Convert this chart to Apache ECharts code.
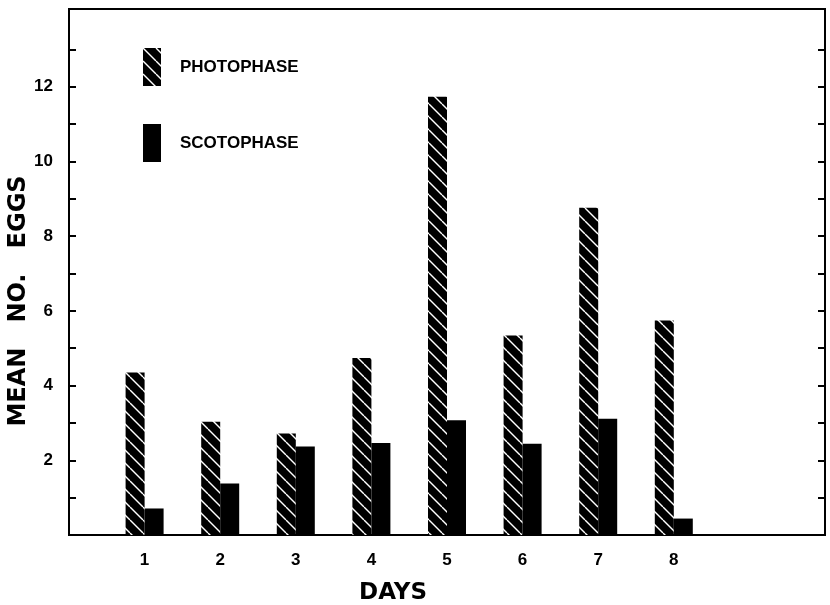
<!DOCTYPE html>
<html>
<head>
<meta charset="utf-8">
<script src="https://cdn.jsdelivr.net/npm/echarts@6/dist/echarts.min.js"></script>
<style>
  html, body { margin: 0; padding: 0; background: #fff; }
  #chart { width: 830px; height: 605px; }
</style>
</head>
<body>
<div id="chart"></div>
<script>
const days = ['1', '2', '3', '4', '5', '6', '7', '8'];
const photophase = [4.35, 3.03, 2.72, 4.74, 11.73, 5.34, 8.76, 5.74];
const scotophase = [0.71, 1.38, 2.37, 2.46, 3.07, 2.44, 3.11, 0.44];
const yTickLabels = ['2', '4', '6', '8', '10', '12'];
const yTicks = [1, 2, 3, 4, 5, 6, 7, 8, 9, 10, 11, 12, 13];
const seriesNames = ['PHOTOPHASE', 'SCOTOPHASE'];

// axis positions 0..10, days sit on 1..8
const axisCats = ['0'].concat(days, ['9', '10']);
const pad = arr => [null].concat(arr, [null, null]);

function hatch() {
  const s = 13;
  const c = document.createElement('canvas');
  c.width = s; c.height = s;
  const g = c.getContext('2d');
  g.fillStyle = '#000';
  g.fillRect(0, 0, s, s);
  g.strokeStyle = '#fff';
  g.lineWidth = 1.4;
  for (let k = -s; k <= s; k += s) {
    g.beginPath();
    g.moveTo(k, 0);
    g.lineTo(k + s, s);
    g.stroke();
  }
  return c;
}

const chart = echarts.init(document.getElementById('chart'), null, { renderer: 'canvas' });
const font = 'Liberation Sans';
chart.setOption({
  animation: false,
  backgroundColor: '#fff',
  grid: { left: 69, right: 5, top: 9, bottom: 70, show: true, borderColor: '#000', borderWidth: 2, backgroundColor: 'transparent' },
  legend: {
    orient: 'vertical', left: 143, top: 48, padding: 0,
    itemWidth: 18, itemHeight: 38, itemGap: 38,
    icon: 'rect',
    data: seriesNames,
    textStyle: { fontFamily: font, fontWeight: 'bold', fontSize: 17, color: '#000', padding: [0, 0, 0, 14] }
  },
  xAxis: {
    type: 'category', data: axisCats, boundaryGap: false,
    axisLine: { show: true, lineStyle: { color: '#000', width: 2 } },
    axisTick: { show: false },
    splitLine: { show: false },
    axisLabel: {
      margin: 17, color: '#000', fontFamily: font, fontWeight: 'bold', fontSize: 17,
      interval: 0,
      formatter: v => days.includes(v) ? v : ''
    }
  },
  yAxis: [{
    type: 'value', min: 0, max: 14.08, interval: 1,
    axisLine: { show: true, lineStyle: { color: '#000', width: 2 } },
    axisTick: { show: true, inside: true, length: 7, lineStyle: { color: '#000', width: 2 }, customValues: yTicks },
    splitLine: { show: false },
    axisLabel: {
      margin: 16, color: '#000', fontFamily: font, fontWeight: 'bold', fontSize: 17,
      showMaxLabel: false,
      formatter: v => yTickLabels.includes(String(v)) ? String(v) : ''
    }
  }, {
    type: 'value', min: 0, max: 14.08, interval: 1, position: 'right',
    axisLine: { show: true, lineStyle: { color: '#000', width: 2 } },
    axisTick: { show: true, inside: true, length: 7, lineStyle: { color: '#000', width: 2 }, customValues: yTicks },
    splitLine: { show: false },
    axisLabel: { show: false }
  }],
  series: [{
    name: seriesNames[0], type: 'bar', yAxisIndex: 0,
    data: pad(photophase), barWidth: 19, barGap: '0%',
    itemStyle: { color: { image: hatch(), repeat: 'repeat' } }
  }, {
    name: seriesNames[1], type: 'bar', yAxisIndex: 0,
    data: pad(scotophase), barWidth: 19, barGap: '0%',
    itemStyle: { color: '#000' }
  }],
  graphic: [{
    type: 'text', x: 19, y: 301, rotation: Math.PI / 2,
    style: { text: 'MEAN   NO.   EGGS', fontFamily: 'DejaVu Sans', fontWeight: 'bold', fontSize: 24, fill: '#000', align: 'center', verticalAlign: 'middle' }
  }, {
    type: 'text', x: 393, y: 593,
    style: { text: 'DAYS', fontFamily: 'DejaVu Sans', fontWeight: 'bold', fontSize: 23, fill: '#000', align: 'center', verticalAlign: 'middle' }
  }]
});
</script>
</body>
</html>
